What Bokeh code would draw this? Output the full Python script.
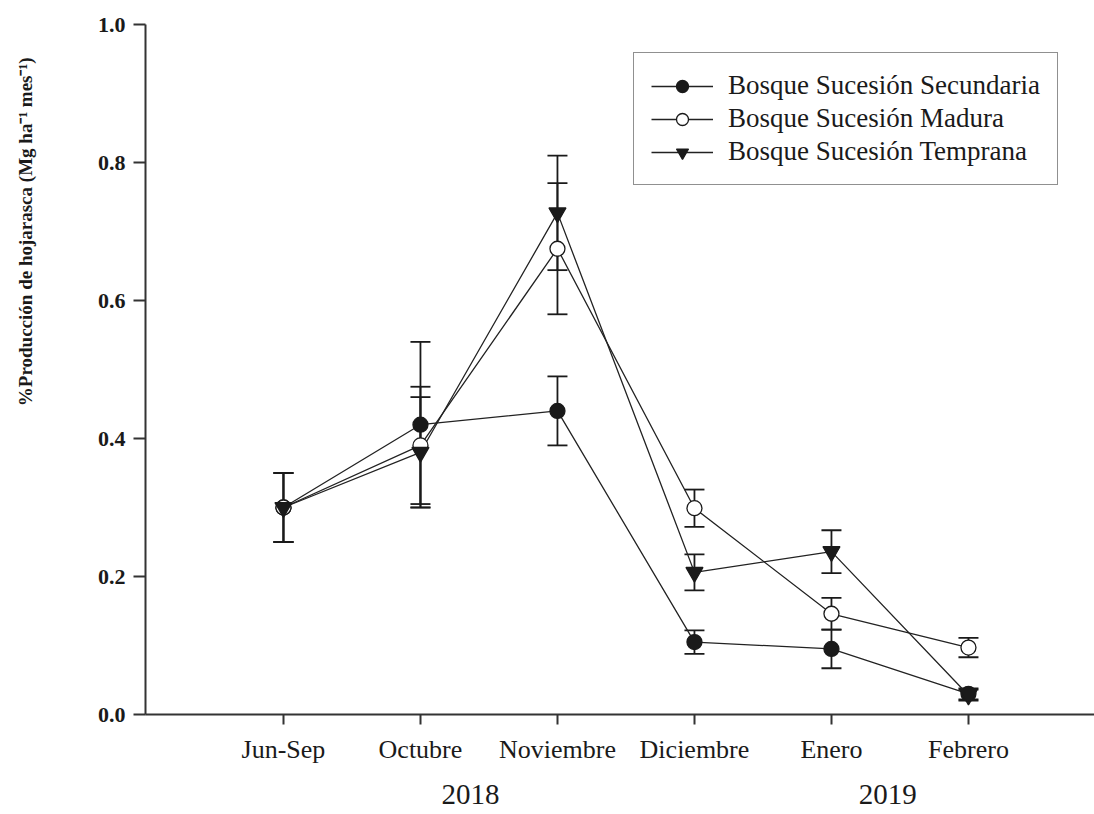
import numpy as np
from bokeh.plotting import figure
from bokeh.models import (FixedTicker, PrintfTickFormatter, Range1d, Legend,
                          LegendItem, LinearAxis, Title)
from bokeh.embed import file_html
from bokeh.resources import INLINE

months = ["Jun-Sep", "Octubre", "Noviembre", "Diciembre", "Enero", "Febrero"]
years = ["2018", "2019"]
year_pos = [1.365, 4.41]

secundaria = [0.30, 0.42, 0.44, 0.105, 0.095, 0.030]
secundaria_err = [0.05, 0.12, 0.05, 0.017, 0.028, 0.008]
madura = [0.30, 0.39, 0.675, 0.299, 0.146, 0.097]
madura_err = [0.05, 0.085, 0.095, 0.027, 0.023, 0.014]
temprana = [0.30, 0.38, 0.727, 0.206, 0.236, 0.028]
temprana_err = [0.05, 0.08, 0.083, 0.026, 0.031, 0.008]

y_ticks = [0.0, 0.2, 0.4, 0.6, 0.8, 1.0]
y_label = "%Producción de hojarasca (Mg ha\u207b\u00b9 mes\u207b\u00b9)"

SERIF = "Liberation Serif"
INK = "#1a1a1a"

x = np.arange(len(months))

p = figure(width=1094, height=814, output_backend="svg", toolbar_location=None,
           x_range=Range1d(-1.007, 5.92), y_range=Range1d(0, 1.0),
           min_border_left=145, min_border_top=24, min_border_bottom=100,
           min_border_right=0)
p.outline_line_color = None
p.xgrid.visible = False
p.ygrid.visible = False
p.background_fill_color = "white"
p.border_fill_color = "white"

# axes
p.xaxis.ticker = FixedTicker(ticks=list(x))
p.xaxis.major_label_overrides = {int(i): m for i, m in zip(x, months)}
p.xaxis.major_label_text_font = SERIF
p.xaxis.major_label_text_font_size = "26px"
p.xaxis.major_label_text_color = INK
p.xaxis.major_label_standoff = 10
p.xaxis.minor_tick_line_color = None
p.xaxis.major_tick_in = 0
p.xaxis.major_tick_out = 10
p.xaxis.axis_line_width = 2
p.xaxis.axis_line_color = "#333333"
p.xaxis.major_tick_line_width = 2
p.xaxis.major_tick_line_color = "#333333"

year_axis = LinearAxis(ticker=FixedTicker(ticks=year_pos),
                       major_label_overrides={pos: yr for pos, yr in zip(year_pos, years)},
                       axis_line_color=None, major_tick_line_color=None,
                       minor_tick_line_color=None, major_tick_in=0, major_tick_out=0,
                       major_label_standoff=18,
                       major_label_text_font=SERIF,
                       major_label_text_font_size="29px",
                       major_label_text_color=INK)
p.add_layout(year_axis, "below")

p.yaxis.ticker = FixedTicker(ticks=y_ticks)
p.yaxis.formatter = PrintfTickFormatter(format="%.1f")
p.yaxis.major_label_text_font = SERIF
p.yaxis.major_label_text_font_style = "bold"
p.yaxis.major_label_text_font_size = "22px"
p.yaxis.major_label_text_color = INK
p.yaxis.major_label_standoff = 8
p.yaxis.minor_tick_line_color = None
p.yaxis.major_tick_in = 0
p.yaxis.major_tick_out = 12
p.yaxis.axis_line_width = 2
p.yaxis.axis_line_color = "#333333"
p.yaxis.major_tick_line_width = 2
p.yaxis.major_tick_line_color = "#333333"
# blank axis label only reserves room between tick labels and the title
p.yaxis.axis_label = " "
p.yaxis.axis_label_text_font_size = "19px"
p.yaxis.axis_label_standoff = 30

p.add_layout(Title(text=y_label, align="right", offset=33,
                   text_font=SERIF, text_font_style="bold",
                   text_font_size="19px", text_color=INK), "left")

series = [
    ("Bosque Sucesión Secundaria", secundaria, secundaria_err, "circle", INK, 15),
    ("Bosque Sucesión Madura", madura, madura_err, "circle", "white", 15),
    ("Bosque Sucesión Temprana", temprana, temprana_err, "inverted_triangle", INK, 17),
]

# error bars first
for name, vals, errs, marker, fill, size in series:
    v = np.array(vals)
    e = np.array(errs)
    lo = v - e
    hi = v + e
    p.segment(x0=x, y0=lo, x1=x, y1=hi, line_color=INK, line_width=1.8)
    p.scatter(x=np.concatenate([x, x]), y=np.concatenate([lo, hi]),
              marker="dash", size=20, line_color=INK, line_width=1.8)

items = []
line_rs = []
for name, vals, errs, marker, fill, size in series:
    lr = p.line(x=x, y=vals, line_color="#222222", line_width=1.3)
    line_rs.append((name, lr))

for (name, vals, errs, marker, fill, size), (_, lr) in zip(series, line_rs):
    sr = p.scatter(x=x, y=vals, marker=marker, size=size, fill_color=fill,
                   line_color=INK, line_width=1.3)
    items.append(LegendItem(label=name, renderers=[lr, sr]))

legend = Legend(items=items, location=(488, 529))
legend.label_text_font = SERIF
legend.label_text_font_size = "27px"
legend.label_text_color = INK
legend.glyph_width = 62
legend.glyph_height = 30
legend.label_height = 30
legend.label_standoff = 15
legend.spacing = 2
legend.padding = 17
legend.margin = 0
legend.border_line_color = "#222222"
legend.border_line_width = 1.5
legend.background_fill_color = "white"
legend.background_fill_alpha = 1.0
p.add_layout(legend, "center")

open("out.html", "w").write(file_html(p, INLINE))
